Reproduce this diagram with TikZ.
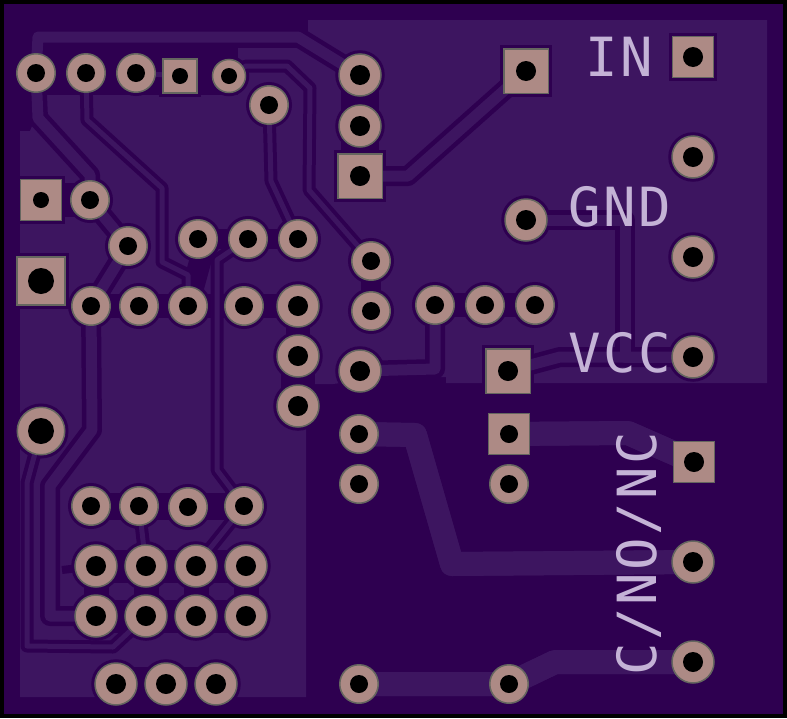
\documentclass[tikz,border=0pt]{standalone}
\usepackage{fontspec}
\newfontfamily\silkfont[LetterSpace=5]{DejaVu Sans Mono}
\definecolor{boarddark}{HTML}{2E0050}
\definecolor{pourlight}{HTML}{3D1560}
\definecolor{padpink}{HTML}{AD8A85}
\definecolor{padring}{HTML}{65665F}
\definecolor{silkcol}{HTML}{C4B3D6}
\pgfdeclarelayer{board}
\pgfdeclarelayer{gaps}
\pgfdeclarelayer{traces}
\pgfsetlayers{board,gaps,traces,main}
\tikzset{
	padface/.style={draw=padring,fill=padpink,line width=1.5pt,inner sep=0pt},
	padgap/.style={draw=boarddark,fill=boarddark,line width=7.5pt,inner sep=0pt},
	hole/.style={path picture={\fill[black] (path picture bounding box.center) circle (#1pt);}},
	rndsmall/.style={circle,minimum size=33pt},
	rndmid/.style={circle,minimum size=38.5pt},
	rndbig/.style={circle,minimum size=42pt},
	rndhuge/.style={circle,minimum size=47.5pt},
	sqsmall/.style={rectangle,minimum size=34pt},
	sqmid/.style={rectangle,minimum size=41pt},
	sqbig/.style={rectangle,minimum size=44.5pt},
	sqhuge/.style={rectangle,minimum size=48pt},
	thintrace/.style={draw=pourlight,line width=5pt,line join=round},
	thintracegap/.style={draw=boarddark,line width=13pt,line join=round},
	widetrace/.style={draw=pourlight,line width=11pt,line join=round},
	widetracegap/.style={draw=boarddark,line width=20pt,line join=round},
	powertrace/.style={draw=pourlight,line width=24pt,line join=round},
	powertracegap/.style={draw=pourlight,line width=24pt,line join=round},
	gapband/.style={draw=boarddark,line width=#1pt},
	silk/.style={text=silkcol,inner sep=0pt,font=\silkfont\fontsize{54}{54}\selectfont},
}
\newcommand{\padnode}[5]{%
	\node[#1,padface,hole=#2] (#3) at (#4,#5) {};
	\begin{pgfonlayer}{gaps}
		\node[#1,padgap] (g#3) at (#4,#5) {};
	\end{pgfonlayer}
}
\newcommand{\routenet}[2]{%
	\begin{pgfonlayer}{gaps}
		\draw[#1gap] #2;
	\end{pgfonlayer}
	\begin{pgfonlayer}{traces}
		\draw[#1] #2;
	\end{pgfonlayer}
}
\begin{document}
\begin{tikzpicture}[x=1pt,y=-1pt]
	\useasboundingbox (0,0) rectangle (787,718);
	\begin{pgfonlayer}{board}
		\fill[black] (0,0) rectangle (787,718);
		\fill[boarddark] (4,4) rectangle (783,714);
		\fill[pourlight] (308,20) -- (767,20) -- (767,383) -- (446,383) -- (446,377) -- (385,377) -- (333,384) -- (306,384) -- (306,697) -- (20,697) -- (20,131) -- (30,131) -- (45,95) -- (238,95) -- (238,48) -- (298,48) -- (308,37) -- cycle;
	\end{pgfonlayer}
	% pads
	\foreach \n/\x/\y in {ta/36/73,tb/86/73,tc/136/73,tf/269/105,kb/90/200,kc/128/246,kd/198/239,ke/248/239,kf/298/239,lb/91/306,lc/139/306,ld/188/306,le/244/306,ma/371/261,mb/371/311,oa/91/506,ob/139/506,oc/188/507,od/244/506,sa/359/434,sb/359/484,sc/359/684,ua/435/305,ub/485/305,uc/535/305,ve/509/484,vf/509/684}{\padnode{rndmid}{9}{\n}{\x}{\y}}
	\padnode{rndsmall}{8}{te}{229}{76}
	\foreach \n/\x/\y in {ja/360/75,jb/360/126,mc/360/371,vb/526/220,lf/298/306,lg/298/356,lh/298/406,wb/693/157,wc/693/257,wd/693/357,wf/693/562,wg/693/662,pa/96/566,pb/146/566,pc/196/566,pd/246/566,qa/96/616,qb/146/616,qc/196/616,qd/246/616,ra/116/684,rb/166/684,rc/216/684}{\padnode{rndbig}{10}{\n}{\x}{\y}}
	\padnode{rndhuge}{13}{na}{41}{431}
	\padnode{sqsmall}{8}{td}{180}{76}
	\padnode{sqmid}{8}{ka}{41}{200}
	\padnode{sqhuge}{13}{la}{41}{281}
	\foreach \n/\x/\y in {jc/360/176,va/526/71,vc/508/371}{\padnode{sqbig}{10}{\n}{\x}{\y}}
	\foreach \n/\x/\y in {wa/693/57,we/694/462}{\padnode{sqmid}{10}{\n}{\x}{\y}}
	\padnode{sqmid}{9}{vd}{509}{434}
	% gaps between neighbouring pads
	\begin{pgfonlayer}{gaps}
		\draw[gapband=34] (ka.center) -- (kb.center);
		\draw[gapband=20] (kd.center) -- (kf.center);
		\draw[gapband=24] (lb.center) -- (lf.center);
		\draw[gapband=24] (lf.center) -- (lg.center);
		\draw[gapband=34] (lg.center) -- (lh.center);
		\draw[gapband=38] (ja.center) -- (jc.center);
		\draw[gapband=24] (ua.center) -- (uc.center);
		\draw[gapband=20] (ma.center) -- (mb.center);
		\draw[gapband=27] (oa.center) -- (od.center);
		\draw[gapband=33] (pa.center) -- (pd.center);
		\draw[gapband=33] (qa.center) -- (qd.center);
		\draw[gapband=25] (pa.center) -- (qa.center);
		\draw[gapband=25] (pb.center) -- (qb.center);
		\draw[gapband=25] (pc.center) -- (qc.center);
		\draw[gapband=25] (pd.center) -- (qd.center);
		\draw[gapband=34] (ra.center) -- (rc.center);
		\draw[gapband=22] (ld.center) -- (203,251);
		\draw[gapband=8] (pa.center) -- (62,570);
	\end{pgfonlayer}
	% traces
	\routenet{widetrace}{(ta.center) -- (38,37) -- (298,37) -- (ja.center)}
	\routenet{widetrace}{(ta.center) -- (38,118) -- (90,175) -- (kb.center) -- (kc.center) -- (lb.center) -- (92,430) -- (50,486) -- (50,616) -- (qa.center)}
	\routenet{widetrace}{(jc.center) -- (408,176) -- (va.center)}
	\routenet{widetrace}{(vb.center) -- (625,220) -- (625,357) -- (wd.center)}
	\routenet{widetrace}{(vc.center) -- (560,357) -- (wd.center)}
	\routenet{widetrace}{(ua.center) -- (435,369) -- (mc.center)}
	\routenet{thintrace}{(te.center) -- (246,66) -- (287,66) -- (310,88) -- (309,190) -- (ma.center)}
	\routenet{thintrace}{(tf.center) -- (271,181) -- (kf.center)}
	\routenet{thintrace}{(tb.center) -- (87,120) -- (162,188) -- (162,262) -- (188,275) -- (ld.center)}
	\routenet{thintrace}{(ke.center) -- (217,260) -- (217,470) -- (od.center)}
	\routenet{thintrace}{(na.center) -- (27,483) -- (27,646) -- (113,647) -- (qb.center)}
	\routenet{thintrace}{(ob.center) -- (pb.center)}
	\routenet{thintrace}{(od.center) -- (pc.center)}
	\routenet{thintrace}{(tc.center) -- (td.center)}
	\routenet{powertrace}{(sa.center) -- (415,435) -- (452,564) -- (wf.center)}
	\routenet{powertrace}{(vd.center) -- (628,433) -- (we.center)}
	\routenet{powertrace}{(sc.center) -- (vf.center) -- (555,662) -- (wg.center)}
	% silkscreen labels
	\node[silk] (lblin) at (619,57) {IN};
	\node[silk] (lblgnd) at (620,207) {GND};
	\node[silk] (lblvcc) at (620,353) {VCC};
	\node[silk,rotate=90] (lblcontact) at (639,554) {C/NO/NC};
\end{tikzpicture}
\end{document}
